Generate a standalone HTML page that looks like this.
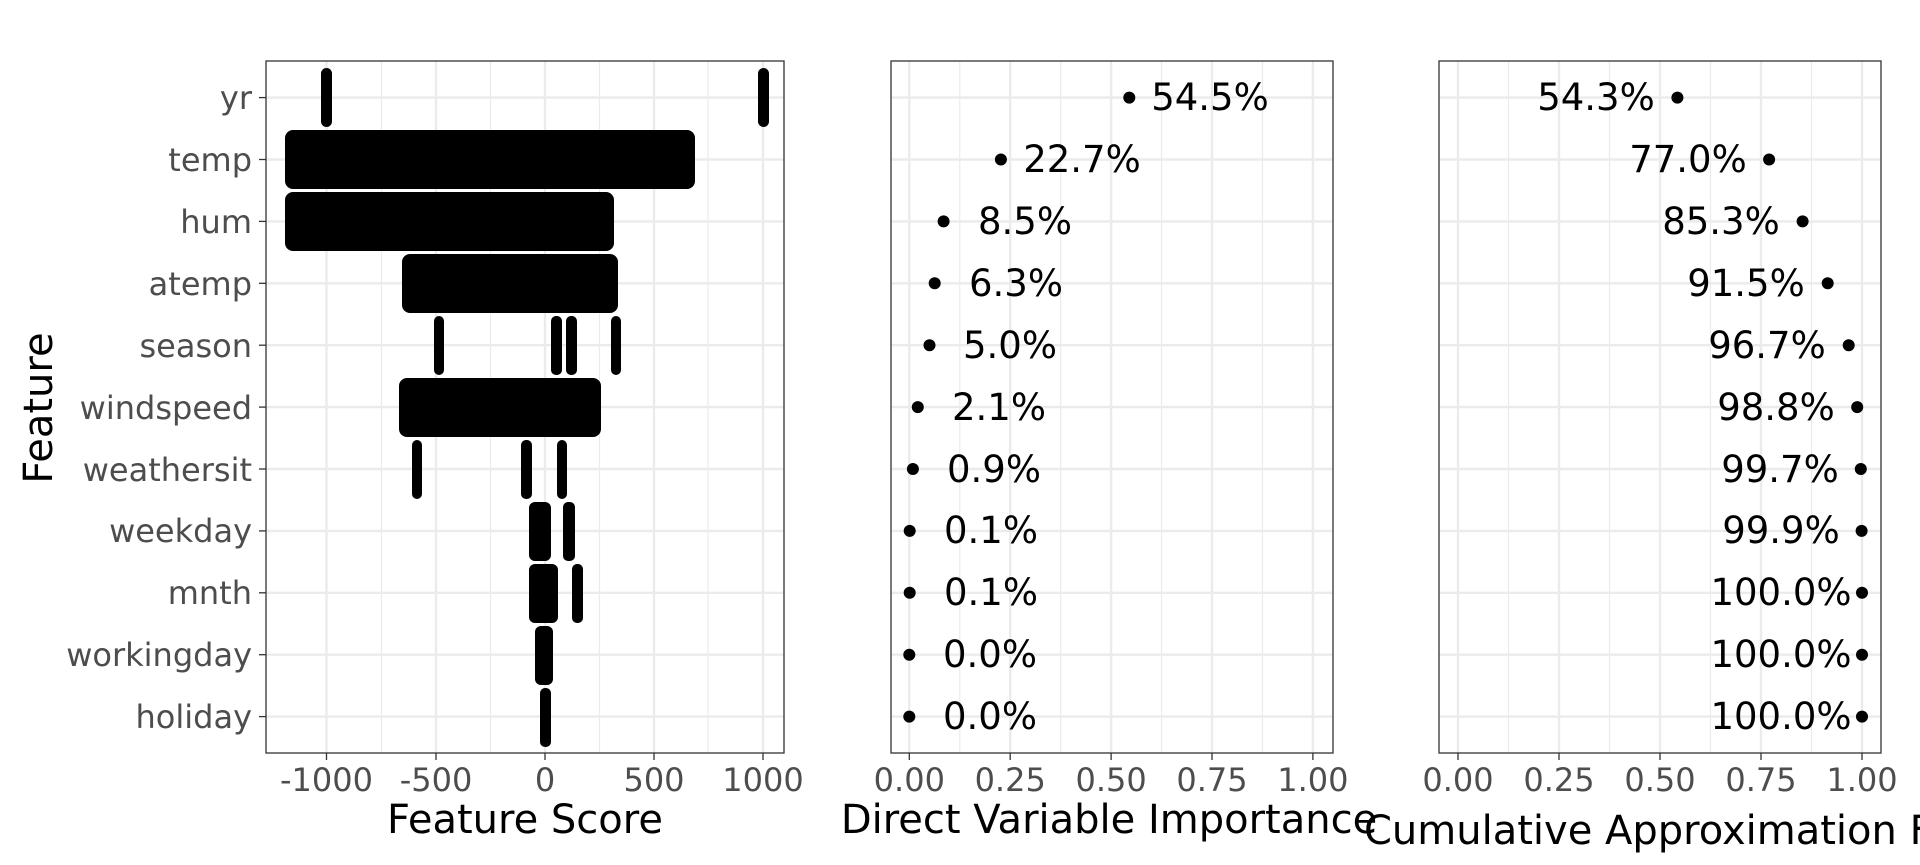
<!DOCTYPE html>
<html><head><meta charset="utf-8"><style>
html,body{margin:0;padding:0;background:#fff}
svg{display:block}
text{font-family:"DejaVu Sans","Liberation Sans",sans-serif}
</style></head><body>
<svg width="1920" height="865" viewBox="0 0 1920 865" xmlns="http://www.w3.org/2000/svg">
<rect width="1920" height="865" fill="#fff"/>
<!-- Panel 1 -->
<g>
<g stroke="#ebebeb" stroke-width="1.2">
<line x1="381.5" y1="61" x2="381.5" y2="753"/><line x1="490.5" y1="61" x2="490.5" y2="753"/>
<line x1="599.5" y1="61" x2="599.5" y2="753"/><line x1="708" y1="61" x2="708" y2="753"/>
</g>
<g stroke="#ebebeb" stroke-width="2.4">
<line x1="326.5" y1="61" x2="326.5" y2="753"/><line x1="436" y1="61" x2="436" y2="753"/>
<line x1="545" y1="61" x2="545" y2="753"/><line x1="654" y1="61" x2="654" y2="753"/><line x1="763" y1="61" x2="763" y2="753"/>
<line x1="266" y1="97.6" x2="784" y2="97.6"/><line x1="266" y1="159.5" x2="784" y2="159.5"/>
<line x1="266" y1="221.4" x2="784" y2="221.4"/><line x1="266" y1="283.3" x2="784" y2="283.3"/>
<line x1="266" y1="345.2" x2="784" y2="345.2"/><line x1="266" y1="407.1" x2="784" y2="407.1"/>
<line x1="266" y1="469" x2="784" y2="469"/><line x1="266" y1="530.9" x2="784" y2="530.9"/>
<line x1="266" y1="592.8" x2="784" y2="592.8"/><line x1="266" y1="654.7" x2="784" y2="654.7"/>
<line x1="266" y1="716.6" x2="784" y2="716.6"/>
</g>
<g fill="#000">
<rect x="321" y="68" width="11" height="59" rx="5.5"/>
<rect x="758" y="68" width="11" height="59" rx="5.5"/>
<rect x="285" y="130" width="410" height="59" rx="8"/>
<rect x="285" y="192" width="329" height="59" rx="8"/>
<rect x="402" y="254" width="216" height="59" rx="8"/>
<rect x="434" y="316" width="10" height="59" rx="5"/>
<rect x="551" y="316" width="11" height="59" rx="5"/>
<rect x="566" y="316" width="11" height="59" rx="5"/>
<rect x="611" y="316" width="10" height="59" rx="5"/>
<rect x="399" y="378" width="202" height="59" rx="8"/>
<rect x="412" y="440" width="10" height="59" rx="5"/>
<rect x="521" y="440" width="11" height="59" rx="5"/>
<rect x="557" y="440" width="10" height="59" rx="5"/>
<rect x="529" y="502" width="22" height="59" rx="6"/>
<rect x="563" y="502" width="12" height="59" rx="5"/>
<rect x="529" y="564" width="29" height="59" rx="6"/>
<rect x="572" y="564" width="11" height="59" rx="5"/>
<rect x="535" y="626" width="18" height="59" rx="6"/>
<rect x="540" y="688" width="11" height="59" rx="5"/>
</g>
<rect x="266" y="61" width="518" height="692" fill="none" stroke="#333" stroke-width="1.3"/>
<g stroke="#333" stroke-width="1.3">
<line x1="259" y1="97.6" x2="266" y2="97.6"/><line x1="259" y1="159.5" x2="266" y2="159.5"/>
<line x1="259" y1="221.4" x2="266" y2="221.4"/><line x1="259" y1="283.3" x2="266" y2="283.3"/>
<line x1="259" y1="345.2" x2="266" y2="345.2"/><line x1="259" y1="407.1" x2="266" y2="407.1"/>
<line x1="259" y1="469" x2="266" y2="469"/><line x1="259" y1="530.9" x2="266" y2="530.9"/>
<line x1="259" y1="592.8" x2="266" y2="592.8"/><line x1="259" y1="654.7" x2="266" y2="654.7"/>
<line x1="259" y1="716.6" x2="266" y2="716.6"/>
<line x1="326.5" y1="753" x2="326.5" y2="760"/><line x1="436" y1="753" x2="436" y2="760"/>
<line x1="545" y1="753" x2="545" y2="760"/><line x1="654" y1="753" x2="654" y2="760"/><line x1="763" y1="753" x2="763" y2="760"/>
</g>
<g fill="#4d4d4d" font-size="32" text-anchor="end">
<text x="252" y="109">yr</text><text x="252" y="171">temp</text><text x="252" y="233">hum</text>
<text x="252" y="295">atemp</text><text x="252" y="357">season</text><text x="252" y="419">windspeed</text>
<text x="252" y="481">weathersit</text><text x="252" y="542">weekday</text><text x="252" y="604">mnth</text>
<text x="252" y="666">workingday</text><text x="252" y="728">holiday</text>
</g>
<g fill="#4d4d4d" font-size="32" text-anchor="middle">
<text x="326.5" y="791">-1000</text><text x="436" y="791">-500</text><text x="545" y="791">0</text>
<text x="654" y="791">500</text><text x="763" y="791">1000</text>
</g>
<text x="525" y="833" font-size="40" text-anchor="middle" fill="#000">Feature Score</text>
<text transform="translate(52,408) rotate(-90)" font-size="40" text-anchor="middle" fill="#000">Feature</text>
</g>
<!-- Panel 2 -->
<g>
<g stroke="#ebebeb" stroke-width="1.2">
<line x1="959.75" y1="61" x2="959.75" y2="753"/><line x1="1060.65" y1="61" x2="1060.65" y2="753"/>
<line x1="1161.55" y1="61" x2="1161.55" y2="753"/><line x1="1262.45" y1="61" x2="1262.45" y2="753"/>
</g>
<g stroke="#ebebeb" stroke-width="2.4">
<line x1="909.3" y1="61" x2="909.3" y2="753"/><line x1="1010.2" y1="61" x2="1010.2" y2="753"/>
<line x1="1111.1" y1="61" x2="1111.1" y2="753"/><line x1="1212" y1="61" x2="1212" y2="753"/><line x1="1312.9" y1="61" x2="1312.9" y2="753"/>
<line x1="891" y1="97.6" x2="1333" y2="97.6"/><line x1="891" y1="159.5" x2="1333" y2="159.5"/>
<line x1="891" y1="221.4" x2="1333" y2="221.4"/><line x1="891" y1="283.3" x2="1333" y2="283.3"/>
<line x1="891" y1="345.2" x2="1333" y2="345.2"/><line x1="891" y1="407.1" x2="1333" y2="407.1"/>
<line x1="891" y1="469" x2="1333" y2="469"/><line x1="891" y1="530.9" x2="1333" y2="530.9"/>
<line x1="891" y1="592.8" x2="1333" y2="592.8"/><line x1="891" y1="654.7" x2="1333" y2="654.7"/>
<line x1="891" y1="716.6" x2="1333" y2="716.6"/>
</g>
<g fill="#000">
<circle cx="1129.3" cy="97.6" r="6"/><circle cx="1000.9" cy="159.5" r="6"/><circle cx="943.6" cy="221.4" r="6"/>
<circle cx="934.7" cy="283.3" r="6"/><circle cx="929.5" cy="345.2" r="6"/><circle cx="917.8" cy="407.1" r="6"/>
<circle cx="912.9" cy="469" r="6"/><circle cx="909.7" cy="530.9" r="6"/><circle cx="909.7" cy="592.8" r="6"/>
<circle cx="909.3" cy="654.7" r="6"/><circle cx="909.3" cy="716.6" r="6"/>
</g>
<g fill="#000" font-size="37" text-anchor="middle">
<text x="1210" y="110">54.5%</text><text x="1082" y="172">22.7%</text><text x="1025" y="234">8.5%</text>
<text x="1016" y="296">6.3%</text><text x="1010" y="358">5.0%</text><text x="999" y="420">2.1%</text>
<text x="994" y="482">0.9%</text><text x="991" y="543">0.1%</text><text x="991" y="605">0.1%</text>
<text x="990" y="667">0.0%</text><text x="990" y="729">0.0%</text>
</g>
<rect x="891" y="61" width="442" height="692" fill="none" stroke="#333" stroke-width="1.3"/>
<g stroke="#333" stroke-width="1.3">
<line x1="909.3" y1="753" x2="909.3" y2="760"/><line x1="1010.2" y1="753" x2="1010.2" y2="760"/>
<line x1="1111.1" y1="753" x2="1111.1" y2="760"/><line x1="1212" y1="753" x2="1212" y2="760"/><line x1="1312.9" y1="753" x2="1312.9" y2="760"/>
</g>
<g fill="#4d4d4d" font-size="32" text-anchor="middle">
<text x="909.3" y="791">0.00</text><text x="1010.2" y="791">0.25</text><text x="1111.1" y="791">0.50</text>
<text x="1212" y="791">0.75</text><text x="1312.9" y="791">1.00</text>
</g>
<text x="1109" y="833" font-size="40" text-anchor="middle" fill="#000">Direct Variable Importance</text>
</g>
<!-- Panel 3 -->
<g>
<g stroke="#ebebeb" stroke-width="1.2">
<line x1="1508.5" y1="61" x2="1508.5" y2="753"/><line x1="1609.5" y1="61" x2="1609.5" y2="753"/>
<line x1="1710.5" y1="61" x2="1710.5" y2="753"/><line x1="1811.5" y1="61" x2="1811.5" y2="753"/>
</g>
<g stroke="#ebebeb" stroke-width="2.4">
<line x1="1458" y1="61" x2="1458" y2="753"/><line x1="1559" y1="61" x2="1559" y2="753"/>
<line x1="1660" y1="61" x2="1660" y2="753"/><line x1="1761" y1="61" x2="1761" y2="753"/><line x1="1862" y1="61" x2="1862" y2="753"/>
<line x1="1439" y1="97.6" x2="1881" y2="97.6"/><line x1="1439" y1="159.5" x2="1881" y2="159.5"/>
<line x1="1439" y1="221.4" x2="1881" y2="221.4"/><line x1="1439" y1="283.3" x2="1881" y2="283.3"/>
<line x1="1439" y1="345.2" x2="1881" y2="345.2"/><line x1="1439" y1="407.1" x2="1881" y2="407.1"/>
<line x1="1439" y1="469" x2="1881" y2="469"/><line x1="1439" y1="530.9" x2="1881" y2="530.9"/>
<line x1="1439" y1="592.8" x2="1881" y2="592.8"/><line x1="1439" y1="654.7" x2="1881" y2="654.7"/>
<line x1="1439" y1="716.6" x2="1881" y2="716.6"/>
</g>
<g fill="#000">
<circle cx="1677.4" cy="97.6" r="6"/><circle cx="1769.1" cy="159.5" r="6"/><circle cx="1802.6" cy="221.4" r="6"/>
<circle cx="1827.7" cy="283.3" r="6"/><circle cx="1848.7" cy="345.2" r="6"/><circle cx="1857.2" cy="407.1" r="6"/>
<circle cx="1860.8" cy="469" r="6"/><circle cx="1861.6" cy="530.9" r="6"/><circle cx="1862" cy="592.8" r="6"/>
<circle cx="1862" cy="654.7" r="6"/><circle cx="1862" cy="716.6" r="6"/>
</g>
<g fill="#000" font-size="37" text-anchor="middle">
<text x="1596" y="110">54.3%</text><text x="1688" y="172">77.0%</text><text x="1721" y="234">85.3%</text>
<text x="1746" y="296">91.5%</text><text x="1767" y="358">96.7%</text><text x="1776" y="420">98.8%</text>
<text x="1780" y="482">99.7%</text><text x="1781" y="543">99.9%</text><text x="1781" y="605">100.0%</text>
<text x="1781" y="667">100.0%</text><text x="1781" y="729">100.0%</text>
</g>
<rect x="1439" y="61" width="442" height="692" fill="none" stroke="#333" stroke-width="1.3"/>
<g stroke="#333" stroke-width="1.3">
<line x1="1458" y1="753" x2="1458" y2="760"/><line x1="1559" y1="753" x2="1559" y2="760"/>
<line x1="1660" y1="753" x2="1660" y2="760"/><line x1="1761" y1="753" x2="1761" y2="760"/><line x1="1862" y1="753" x2="1862" y2="760"/>
</g>
<g fill="#4d4d4d" font-size="32" text-anchor="middle">
<text x="1458" y="791">0.00</text><text x="1559" y="791">0.25</text><text x="1660" y="791">0.50</text>
<text x="1761" y="791">0.75</text><text x="1862" y="791">1.00</text>
</g>
<text x="1364" y="844" font-size="40" fill="#000">Cumulative Approximation Fidelity</text>
</g>
</svg>
</body></html>
